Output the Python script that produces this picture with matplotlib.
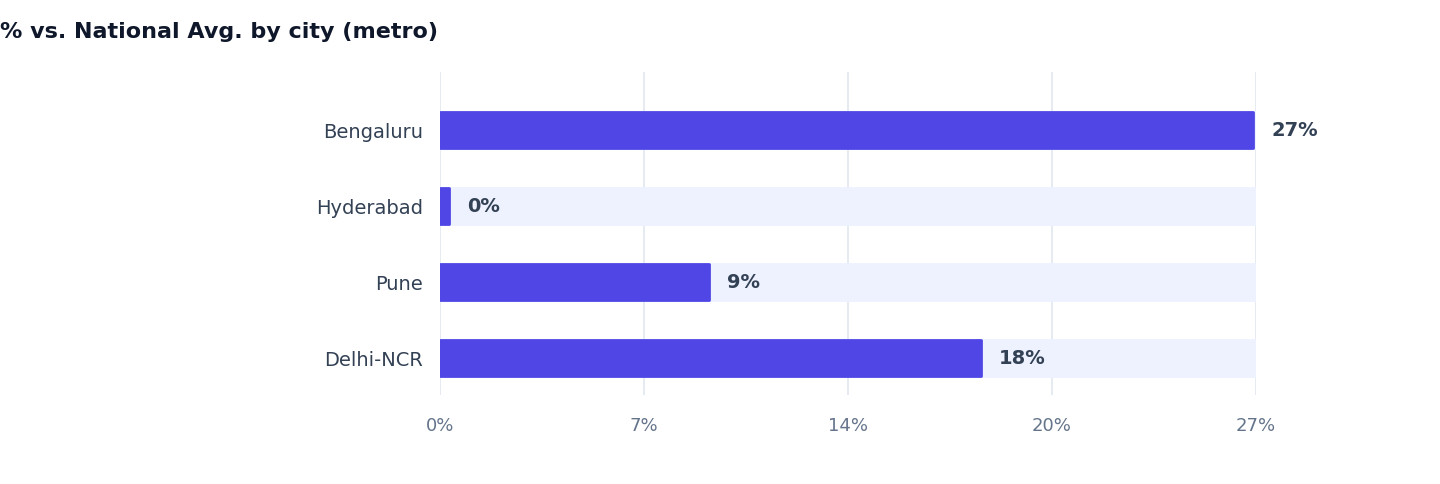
import matplotlib
import matplotlib.pyplot as plt

matplotlib.use("Agg")

cities = ["Bengaluru", "Hyderabad", "Pune", "Delhi-NCR"]
values = [26.9, 0.3, 8.9, 17.9]
labels = ["27%", "0%", "9%", "18%"]
max_val = 27
ticks = [0, 6.75, 13.5, 20.25, 27]
tick_labels = ["0%", "7%", "14%", "20%", "27%"]

fig = plt.figure(figsize=(14.4, 4.84), dpi=100)
ax = fig.add_axes([440 / 1440, 1 - 395 / 484, 816 / 1440, 323 / 484])

y = list(range(len(cities)))
ax.barh(y, [max_val] * len(cities), height=0.47, color="#EEF2FF",
        edgecolor="#EEF2FF", linewidth=2, joinstyle="round", zorder=2)
ax.barh(y, values, height=0.47, color="#4F46E5",
        edgecolor="#4F46E5", linewidth=2, joinstyle="round", zorder=3)
for yi, v, lab in zip(y, values, labels):
    ax.text(v + 0.6, yi, lab, va="center", ha="left", fontsize=14,
            fontweight="bold", color="#334155", zorder=4)

ax.set_xlim(0, max_val)
ax.set_ylim(3 + 37 / 76, -58 / 76)
ax.set_xticks(ticks)
ax.set_xticklabels(tick_labels, fontsize=13, color="#64748B")
ax.set_yticks(y)
ax.set_yticklabels(cities, fontsize=14, color="#334155")
ax.tick_params(length=0, pad=12)
ax.tick_params(axis="x", pad=16)
ax.grid(axis="x", color="#E2E8F0", linewidth=1.2, zorder=0)
for s in ax.spines.values():
    s.set_visible(False)

fig.text(0.0, 1 - 32 / 484, "% vs. National Avg. by city (metro)", fontsize=16,
         fontweight="bold", color="#0F172A", va="center", ha="left")

fig.savefig("out.png", dpi=100)
